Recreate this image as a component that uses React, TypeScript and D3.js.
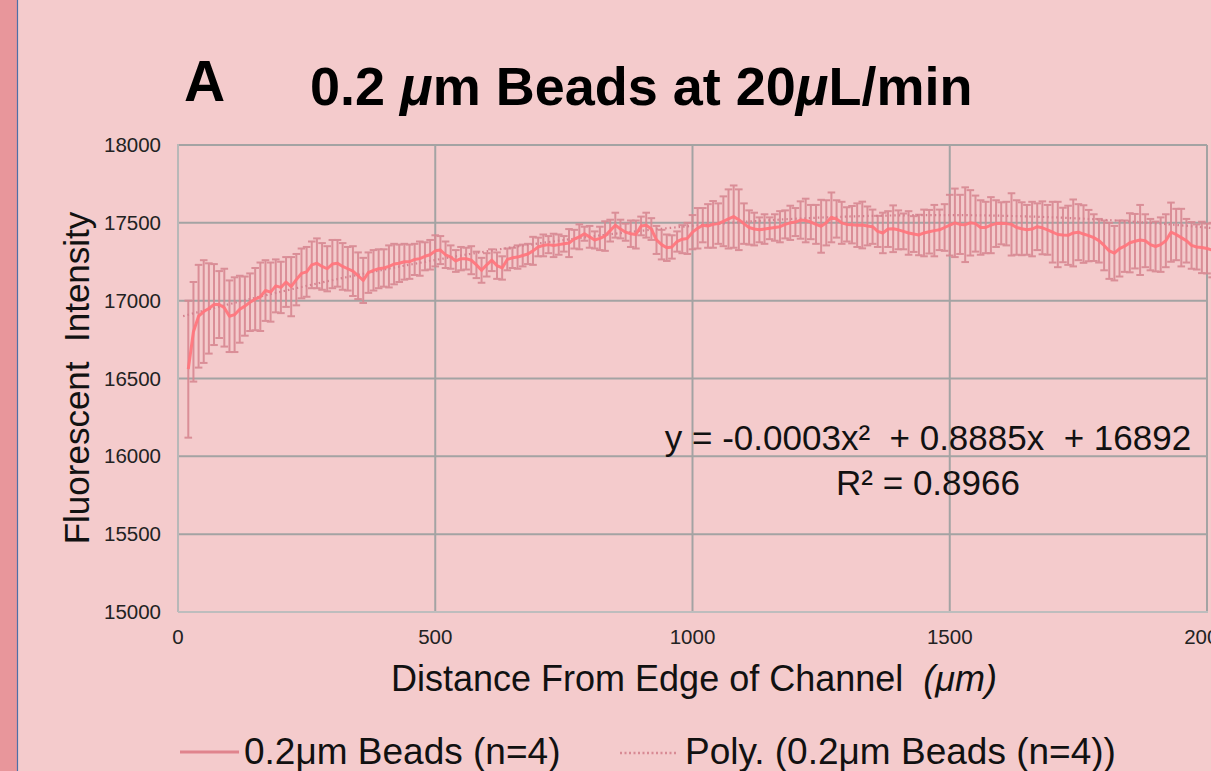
import React, { useEffect, useRef } from 'react';
import * as d3 from 'd3';

// distance from channel edge (µm), one sample every 10 µm
const distances = d3.range(20, 2011, 10);

// mean fluorescent intensity
const meanIntensity = [
  16560, 16800, 16900, 16930, 16950, 16975, 16975, 16955, 16900, 16910,
  16945, 16965, 16990, 17010, 17025, 17065, 17055, 17095, 17085, 17120,
  17090, 17135, 17175, 17185, 17230, 17240, 17220, 17205, 17235, 17240,
  17220, 17205, 17190, 17160, 17130, 17180, 17195, 17205, 17210, 17220,
  17235, 17240, 17250, 17250, 17265, 17270, 17285, 17295, 17320, 17325,
  17295, 17280, 17255, 17270, 17270, 17260, 17230, 17195, 17230, 17260,
  17225, 17210, 17265, 17275, 17280, 17290, 17300, 17320, 17345, 17355,
  17360, 17355, 17360, 17365, 17370, 17395, 17410, 17430, 17410, 17390,
  17400, 17415, 17450, 17485, 17460, 17440, 17430, 17425, 17480, 17485,
  17460, 17390, 17360, 17340, 17345, 17380, 17395, 17400, 17440, 17465,
  17485, 17480, 17490, 17495, 17510, 17525, 17540, 17520, 17495, 17470,
  17460, 17455, 17460, 17465, 17470, 17475, 17490, 17500, 17505, 17518,
  17515, 17505, 17490, 17478, 17500, 17535, 17525, 17500, 17490, 17488,
  17485, 17486, 17480, 17475, 17445, 17435, 17460, 17462, 17455, 17445,
  17435, 17428, 17422, 17435, 17443, 17450, 17455, 17470, 17485, 17500,
  17490, 17488, 17500, 17495, 17470, 17470, 17485, 17495, 17497, 17495,
  17490, 17470, 17462, 17455, 17460, 17475, 17468, 17455, 17440, 17425,
  17422, 17420, 17435, 17440, 17428, 17418, 17405, 17385, 17355, 17320,
  17305, 17335, 17350, 17372, 17382, 17390, 17385, 17360, 17348, 17360,
  17385, 17440, 17425, 17405, 17385, 17355, 17345, 17342, 17335, 17325,
];

// error bar half-heights
const errIntensity = [
  440, 320, 330, 330, 290, 260, 215, 250, 230, 240,
  215, 190, 185, 200, 220, 195, 190, 170, 165, 160,
  190, 165, 160, 160, 150, 160, 150, 145, 155, 150,
  150, 140, 160, 150, 145, 130, 130, 125, 120, 135,
  130, 120, 115, 110, 100, 110, 90, 95, 100, 90,
  85, 75, 70, 75, 70, 90, 85, 80, 75, 70,
  85, 75, 70, 65, 75, 70, 65, 90, 60, 70,
  55, 75, 65, 50, 90, 60, 80, 45, 70, 55,
  75, 95, 70, 80, 60, 55, 85, 90, 60, 80,
  70, 90, 95, 85, 75, 65, 90, 100, 110, 130,
  110, 140, 150, 130, 160, 190, 200, 195, 130, 110,
  105, 80, 95, 70, 85, 100, 90, 110, 90, 120,
  140, 110, 125, 170, 145, 160, 120, 135, 110, 120,
  140, 150, 125, 110, 100, 130, 115, 150, 125, 115,
  140, 115, 130, 150, 140, 165, 130, 150, 195, 220,
  190, 240, 210, 180, 175, 165, 180, 150, 135, 140,
  200, 175, 170, 160, 175, 150, 170, 160, 195, 210,
  175, 190, 215, 180, 185, 165, 150, 140, 160, 180,
  175, 180, 165, 190, 175, 225, 170, 165, 160, 175,
  170, 190, 165, 185, 140, 150, 145, 165, 160, 175,
];

const xTicks = [0, 500, 1000, 1500, 2000];
const yTicks = [15000, 15500, 16000, 16500, 17000, 17500, 18000];
// trendline coefficients as printed on the chart (a x^2 + b x + c)
const trendCoef = [-0.0003, 0.8885, 16892];

const FONT = "'Liberation Sans', Arial, sans-serif";

export default function App() {
  const ref = useRef<SVGSVGElement>(null);

  useEffect(() => {
    const svg = d3.select(ref.current);
    svg.selectAll('*').remove();

    const x = d3.scaleLinear().domain([0, 2000]).range([178, 1207]);
    const y = d3.scaleLinear().domain([15000, 18000]).range([612, 145]);

    // page background + left strip
    svg.append('rect').attr('width', 1211).attr('height', 771).attr('fill', '#f4cbcc');
    svg.append('rect').attr('width', 17).attr('height', 771).attr('fill', '#e8969b');
    svg.append('line').attr('x1', 17.5).attr('x2', 17.5).attr('y1', 0).attr('y2', 771)
      .attr('stroke', '#4d6fa8').attr('stroke-width', 1.2);

    const g = svg.append('g');

    // grid
    g.selectAll('.hgrid').data(yTicks.filter(d => d > 15000)).enter().append('line')
      .attr('x1', x(0)).attr('x2', x(2000))
      .attr('y1', d => y(d)).attr('y2', d => y(d))
      .attr('stroke', '#a3a3a3').attr('stroke-width', 2);
    g.selectAll('.vgrid').data(xTicks.filter(d => d > 0)).enter().append('line')
      .attr('x1', d => x(d)).attr('x2', d => x(d))
      .attr('y1', y(18000)).attr('y2', y(15000))
      .attr('stroke', '#a3a3a3').attr('stroke-width', 2);

    // axis lines
    g.append('line').attr('x1', x(0)).attr('x2', x(0)).attr('y1', y(18000) - 1).attr('y2', y(15000))
      .attr('stroke', '#b8b8b8').attr('stroke-width', 2);
    g.append('line').attr('x1', x(0)).attr('x2', x(2000) + 1).attr('y1', y(15000)).attr('y2', y(15000))
      .attr('stroke', '#bdbdbd').attr('stroke-width', 2);

    // tick labels
    g.selectAll('.ylab').data(yTicks).enter().append('text')
      .attr('x', 161).attr('y', d => y(d) + 7)
      .attr('text-anchor', 'end').attr('font-family', FONT).attr('font-size', 20.5)
      .attr('fill', '#222').text(d => d);
    g.selectAll('.xlab').data(xTicks).enter().append('text')
      .attr('x', d => x(d)).attr('y', 644)
      .attr('text-anchor', 'middle').attr('font-family', FONT).attr('font-size', 20.5)
      .attr('fill', '#222').text(d => d);

    const pts = distances.map((d, i) => ({ d, m: meanIntensity[i], e: errIntensity[i] }));

    // error bars
    const eb = g.append('g').attr('stroke', '#d88892').attr('stroke-width', 2).attr('opacity', 0.9);
    pts.forEach(p => {
      const xp = x(p.d);
      eb.append('line').attr('x1', xp).attr('x2', xp).attr('y1', y(p.m + p.e)).attr('y2', y(p.m - p.e));
      eb.append('line').attr('x1', xp - 3.8).attr('x2', xp + 3.8).attr('y1', y(p.m + p.e)).attr('y2', y(p.m + p.e));
      eb.append('line').attr('x1', xp - 3.8).attr('x2', xp + 3.8).attr('y1', y(p.m - p.e)).attr('y2', y(p.m - p.e));
    });

    // polynomial trendline
    const trend = d3.range(10, 2011, 5).map(t => [t, trendCoef[0] * t * t + trendCoef[1] * t + trendCoef[2]]);
    g.append('path')
      .attr('d', d3.line<number[]>().x(d => x(d[0])).y(d => y(d[1]))(trend))
      .attr('fill', 'none').attr('stroke', '#d4818e').attr('stroke-width', 2.2)
      .attr('stroke-dasharray', '1.5 3');

    // mean line
    g.append('path')
      .attr('d', d3.line<any>().x(p => x(p.d)).y(p => y(p.m))(pts))
      .attr('fill', 'none').attr('stroke', '#ff767d').attr('stroke-width', 3)
      .attr('stroke-linejoin', 'round').attr('opacity', 0.95);

    // equation text
    svg.append('text').attr('x', 928).attr('y', 450).attr('text-anchor', 'middle')
      .attr('font-family', FONT).attr('font-size', 35).attr('fill', '#111')
      .style('white-space', 'pre').text('y = -0.0003x²  + 0.8885x  + 16892');
    svg.append('text').attr('x', 928).attr('y', 495).attr('text-anchor', 'middle')
      .attr('font-family', FONT).attr('font-size', 35).attr('fill', '#111')
      .text('R² = 0.8966');

    // title
    svg.append('text').attr('x', 184).attr('y', 101).attr('font-family', FONT)
      .attr('font-size', 57).attr('font-weight', 'bold').text('A');
    const t = svg.append('text').attr('x', 310).attr('y', 105).attr('font-family', FONT)
      .attr('font-size', 54).attr('font-weight', 'bold').style('white-space', 'pre');
    t.append('tspan').text('0.2 ');
    t.append('tspan').attr('font-style', 'italic').text('μ');
    t.append('tspan').text('m Beads at 20');
    t.append('tspan').attr('font-style', 'italic').text('μ');
    t.append('tspan').text('L/min');

    // axis titles
    svg.append('text').attr('transform', 'translate(89,378) rotate(-90)')
      .attr('text-anchor', 'middle').attr('font-family', FONT).attr('font-size', 35)
      .attr('fill', '#111').style('white-space', 'pre').text('Fluorescent  Intensity');
    const xl = svg.append('text').attr('x', 694).attr('y', 691).attr('text-anchor', 'middle')
      .attr('font-family', FONT).attr('font-size', 36).attr('fill', '#111').style('white-space', 'pre');
    xl.append('tspan').text('Distance From Edge of Channel  ');
    xl.append('tspan').attr('font-style', 'italic').text('(μm)');

    // legend
    svg.append('line').attr('x1', 180).attr('x2', 239).attr('y1', 752).attr('y2', 752)
      .attr('stroke', '#e0848d').attr('stroke-width', 3);
    svg.append('text').attr('x', 244).attr('y', 764).attr('font-family', FONT).attr('font-size', 37)
      .attr('fill', '#111').text('0.2μm Beads (n=4)');
    svg.append('line').attr('x1', 620).attr('x2', 676).attr('y1', 753).attr('y2', 753)
      .attr('stroke', '#d88a94').attr('stroke-width', 2.5).attr('stroke-dasharray', '2 2.5');
    svg.append('text').attr('x', 685).attr('y', 764).attr('font-family', FONT).attr('font-size', 37)
      .attr('fill', '#111').text('Poly. (0.2μm Beads (n=4))');
  }, []);

  return (
    <svg ref={ref} width={1211} height={771}
      style={{ position: 'absolute', left: 0, top: 0, display: 'block' }} />
  );
}
